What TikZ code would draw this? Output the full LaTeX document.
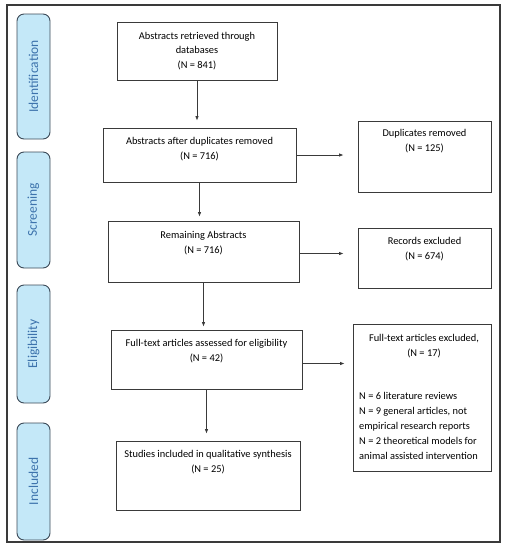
\documentclass[tikz,border=0pt]{standalone}
\usepackage{fontspec}
\setmainfont{Carlito}
\usetikzlibrary{arrows.meta}
\definecolor{frame}{HTML}{3A3A3A}
\definecolor{stagefill}{HTML}{C4E8F8}
\definecolor{stageline}{HTML}{3C4A58}
\definecolor{stagetext}{HTML}{3D73AC}
\tikzset{
  box/.style={draw=frame, line width=0.8pt, minimum width=#1},
  stage/.style={draw=stageline, fill=stagefill, line width=0.9pt, rounded corners=7pt, minimum width=33pt},
  stagelabel/.style={text=stagetext, font=\fontsize{13.5pt}{15pt}\selectfont, rotate=90},
  txt/.style={align=center, font=\fontsize{10.4pt}{14.8pt}\selectfont, inner sep=0pt},
  arr/.style={draw=frame, line width=0.8pt, -{Latex[length=4.5pt,width=3.5pt]}}
}
\begin{document}
\begin{tikzpicture}[x=1pt,y=-1pt]
\useasboundingbox (0,0) rectangle (506,550);
\draw[frame, line width=1.2pt] (7,5) rectangle (500,542);
% stage labels
\node[stage, minimum height=125pt] (s1) at (33.5,76.5) {};
\node[stagelabel] at (s1) {Identification};
\node[stage, minimum height=116pt] (s2) at (33.5,210) {};
\node[stagelabel] at (s2) {Screening};
\node[stage, minimum height=118pt] (s3) at (33.5,344) {};
\node[stagelabel] at (s3) {Eligibility};
\node[stage, minimum height=117pt] (s4) at (33.5,481.5) {};
\node[stagelabel] at (s4) {Included};
% main boxes
\node[box=160pt, minimum height=58pt] (b1) at (197,51) {};
\node[txt] at (197,51) {Abstracts retrieved through\\databases\\(N = 841)};
\node[box=193pt, minimum height=54pt] (b2) at (199.5,155) {};
\node[txt] at (199.5,149.5) {Abstracts after duplicates removed\\(N = 716)};
\node[box=191pt, minimum height=61pt] (b3) at (203.5,251.5) {};
\node[txt] at (203.5,243) {Remaining Abstracts\\(N = 716)};
\node[box=191pt, minimum height=59pt] (b4) at (206.5,359.5) {};
\node[txt] at (206.5,351.5) {Full-text articles assessed for eligibility\\(N = 42)};
\node[box=184pt, minimum height=69pt] (b5) at (208,475.5) {};
\node[txt] at (208,462.5) {Studies included in qualitative synthesis\\(N = 25)};
% side boxes
\node[box=133pt, minimum height=71pt] (dup) at (424.5,156.5) {};
\node[txt] at (424.5,141.5) {Duplicates removed\\(N = 125)};
\node[box=133pt, minimum height=60pt] (rec) at (424.5,258) {};
\node[txt] at (424.5,249.5) {Records excluded\\(N = 674)};
\node[box=138pt, minimum height=147pt] (exc) at (422,397.5) {};
\node[txt] at (424,346.5) {Full-text articles excluded,\\(N = 17)};
\node[txt, align=left, anchor=west] at (359,426) {N = 6 literature reviews\\N = 9 general articles, not\\empirical research reports\\N = 2 theoretical models for\\animal assisted intervention};
% arrows
\draw[arr, shorten >=7pt] (b1.south) -- (b1.south |- b2.north);
\draw[arr, shorten >=4pt] (b2.south) -- (b2.south |- b3.north);
\draw[arr, shorten >=3pt] (b3.south) -- (b3.south |- b4.north);
\draw[arr, shorten >=7pt] (b4.south) -- (b4.south |- b5.north);
\draw[arr, shorten >=14pt] (b2.east) -- (b2.east -| dup.west);
\draw[arr, shorten >=14pt] ([yshift=-2pt]b3.east) -- ([yshift=-2pt]b3.east -| rec.west);
\draw[arr, shorten >=8pt] ([yshift=-4pt]b4.east) -- ([yshift=-4pt]b4.east -| exc.west);
\end{tikzpicture}
\end{document}
